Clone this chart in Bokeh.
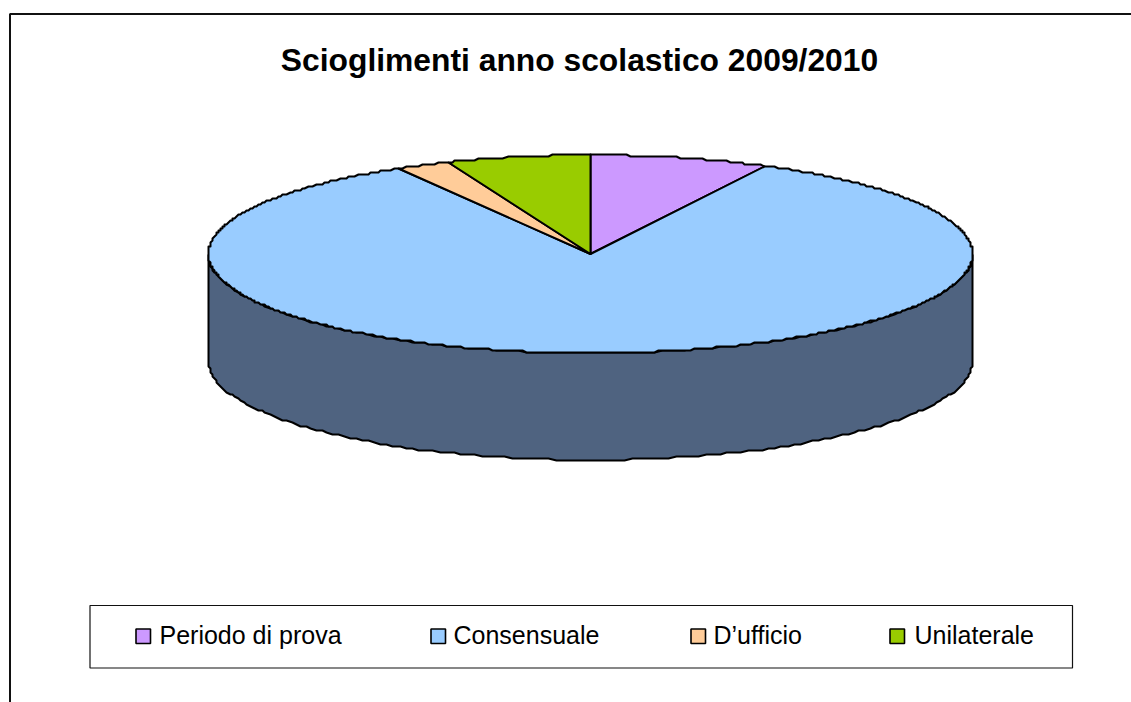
import numpy as np
from bokeh.plotting import figure
from bokeh.models import Range1d
from bokeh.core.properties import value
from bokeh.embed import file_html
from bokeh.resources import INLINE

title = "Scioglimenti anno scolastico 2009/2010"
categories = ["Periodo di prova", "Consensuale", "D\u2019ufficio", "Unilaterale"]
shares = [7.5, 84.1, 2.3, 6.1]
colors = ["#CC99FF", "#99CCFF", "#FFCC99", "#99CC00"]
side_color = "#4F6380"

CX, CY, RX, RY, DEPTH = 590.0, 253.5, 382.0, 99.0, 107.0
GRID = 2.0
legend_swatch_x = [135.5, 430.5, 690.5, 889.5]
legend_text_x = [159, 453, 713, 914]

W, H = 1131, 702
p = figure(width=W, height=H, x_range=Range1d(0, W), y_range=Range1d(H, 0),
           x_axis_type=None, y_axis_type=None, toolbar_location=None,
           output_backend="svg", min_border=0, outline_line_color=None,
           background_fill_color="white", border_fill_color="white")
p.grid.visible = False


def rim(a0, a1, dy=0.0, n=160):
    t = np.linspace(a0, a1, n)
    x = CX + RX * np.sin(t)
    y = CY + dy - RY * np.cos(t)
    # the reference outline is visibly stepped: snap to a coarse pixel grid
    return np.round(x / GRID) * GRID, np.round(y / GRID) * GRID


# chart frame (open on the right and bottom, cut by the picture)
p.line([9.5, 9.5, W], [H, 13.5, 13.5], line_color="#111111", line_width=2)

# side wall
xt, yt = rim(np.pi / 2, 3 * np.pi / 2)
xb, yb = rim(np.pi / 2, 3 * np.pi / 2, DEPTH)
p.patch(np.r_[xt, xb[::-1]], np.r_[yt, yb[::-1]], fill_color=side_color,
        line_color="black", line_width=2)

# top slices, clockwise from twelve o'clock
edges = np.r_[0, np.cumsum(shares)] / np.sum(shares) * 2 * np.pi
for i, c in enumerate(colors):
    x, y = rim(edges[i], edges[i + 1], n=max(8, int(shares[i] * 6)))
    p.patch(np.r_[CX, x], np.r_[CY, y], fill_color=c, line_color="black",
            line_width=2, line_join="round")

p.text([579], [59], text=[title], text_font=value("Liberation Sans"),
       text_font_style="bold", text_font_size="31.8px", text_color="black",
       text_align="center", text_baseline="middle")

# legend
p.quad(left=[89.5], right=[1072], top=[605], bottom=[667.5], fill_color="white",
       line_color="#111111", line_width=1.2)
p.quad(left=legend_swatch_x, right=[v + 14.5 for v in legend_swatch_x],
       top=[628.5] * 4, bottom=[643] * 4, fill_color=colors, line_color="black", line_width=1.6)
p.text(legend_text_x, [635] * 4, text=categories, text_font=value("Liberation Sans"),
       text_font_size="25px", text_color="black", text_align="left", text_baseline="middle",
       y_offset=-1)

open("out.html", "w").write(file_html(p, INLINE))
